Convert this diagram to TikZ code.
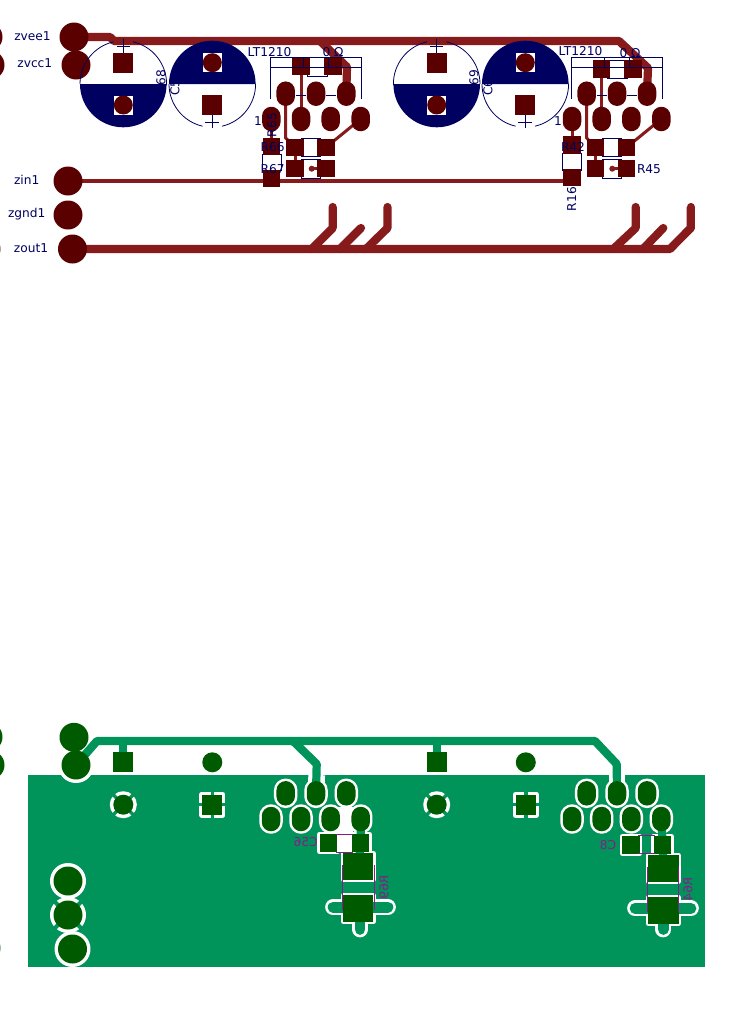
\documentclass[tikz,border=0pt]{standalone}
\usepackage{fontspec}
\setmainfont{DejaVu Sans}
\usetikzlibrary{shapes.misc}
\pgfdeclarelayer{plane}
\pgfdeclarelayer{halo}
\pgfdeclarelayer{traces}
\pgfsetlayers{plane,halo,traces,main}
\definecolor{tracered}{HTML}{871A1A}
\definecolor{padred}{HTML}{5A0000}
\definecolor{silk}{HTML}{000060}
\definecolor{planegreen}{HTML}{00945A}
\definecolor{padgreen}{HTML}{005A00}
\definecolor{silkbot}{HTML}{8A1A8A}
\tikzset{
    pad/.style={inner sep=0, outer sep=0, fill=padred},
    botpad/.style={fill=padgreen},
    padround/.style={pad, circle, minimum size=29},
    padhole/.style={pad, circle, minimum size=19},
    padsq/.style={pad, rectangle, minimum size=20},
    padoval/.style={pad, rounded rectangle, rotate=90, minimum width=24.5, minimum height=18.5},
    padsmd/.style={pad, rectangle, minimum size=17.5},
    padbig/.style={pad, rectangle, minimum width=30, minimum height=26.5},
    clear/.style={fill=none, draw=white, line width=5, line join=round},
    chipbody/.style={draw=silk, line width=0.8, fill=white, inner sep=0, outer sep=0},
    trace/.style={tracered, line width=8.2, line join=round},
    tracethin/.style={tracered, line width=3},
    tracebot/.style={planegreen, line width=8.2, line join=round},
    silkline/.style={silk, line width=0.8},
    silktext/.style={text=silk, font=\fontsize{12.2}{13}\selectfont, inner sep=0},
    bottext/.style={text=silkbot, font=\fontsize{12.2}{13}\selectfont, inner sep=0, xscale=-1},
    botline/.style={silkbot, line width=0.8}
}
\begin{document}
\begin{tikzpicture}[x=1pt, y=-1pt]
    \useasboundingbox (0,0) rectangle (752,1018);
    % pads cut by the page edge
    \begin{scope}
        \clip (0,0) rectangle (752,1018);
        \foreach \y/\x/\n in {37/-12/a, 65/-10/b, 249/-14/c} \node[padround] (edge\n) at (\x,\y) {};
        \foreach \y/\x/\n in {737/-12/d, 765/-10/e, 948/-14/f} \node[padround, botpad] (edge\n) at (\x,\y) {};
    \end{scope}

    % top copper
    \node[padround] (zvee) at (74,37) {};
    \node[padround] (zvcc) at (76,65) {};
    \node[padround] (zin) at (68,181) {};
    \node[padround] (zgnd) at (68,215) {};
    \node[padround] (zout) at (72.5,249) {};
    \node[silktext] at (32.5,36) {zvee1};
    \node[silktext] at (34.8,63.3) {zvcc1};
    \node[silktext] at (26.7,180) {zin1};
    \node[silktext] at (26.7,213.7) {zgnd1};
    \node[silktext] at (31,247.7) {zout1};

    \node[silktext, rotate=90] at (161,77.5) {68};
    \node[silktext, rotate=90, anchor=west] at (175,96) {C5};
    \node[silktext, rotate=90] at (474,77.5) {69};
    \node[silktext, rotate=90, anchor=west] at (488,96) {C6};

    % capacitors
    \foreach \cx/\n in {123.3/a, 436.7/c} {
        \fill[silk] (\cx-43.3,84) arc[start angle=180, end angle=0, radius=43.3] -- cycle;
        \draw[silkline] (\cx-43.3,84) arc[start angle=180, end angle=257, radius=43.3];
        \draw[silkline] (\cx+43.3,84) arc[start angle=360, end angle=283, radius=43.3];
        \draw[silkline] (\cx-43.3,84) -- (\cx+43.3,84);
        \draw[silkline] (\cx,39.3) -- (\cx,52.7) (\cx-6.7,46) -- (\cx+6.7,46);
        \fill[white] (\cx-9.5,95.5) rectangle (\cx+9.5,114.5);
        \node[padsq] (cap\n sq) at (\cx,62.7) {};
        \node[padhole] (cap\n rd) at (\cx,105) {};
    }
    \foreach \cx/\n in {212.3/b, 525.3/d} {
        \fill[silk] (\cx-43.3,84) arc[start angle=180, end angle=360, radius=43.3] -- cycle;
        \draw[silkline] (\cx-43.3,84) arc[start angle=180, end angle=103, radius=43.3];
        \draw[silkline] (\cx+43.3,84) arc[start angle=0, end angle=77, radius=43.3];
        \draw[silkline] (\cx,115) -- (\cx,128.3) (\cx-7,122) -- (\cx+7,122);
        \fill[white] (\cx-9.5,53.2) rectangle (\cx+9.5,72.2);
        \node[padhole] (cap\n rd) at (\cx,62.7) {};
        \node[padsq] (cap\n sq) at (\cx,105) {};
    }

    % amplifiers, row by row
    \foreach \x [count=\i] in {285.7,316,346.3} \node[padoval] (ua\i) at (\x,93.7) {};
    \foreach \x [count=\i] in {271.3,301,330.7,360.7} \node[padoval] (ub\i) at (\x,119) {};
    \foreach \x [count=\i] in {586.7,617,647} \node[padoval] (va\i) at (\x,93.7) {};
    \foreach \x [count=\i] in {572,601.7,631.3,661.3} \node[padoval] (vb\i) at (\x,119) {};

    \node[padsmd] (R1a) at (301,66.7) {};
    \node[padsmd] (R1b) at (333,66.7) {};
    \node[padsmd] (R66a) at (295,147.3) {};
    \node[padsmd] (R66b) at (326,147.3) {};
    \node[padsmd] (R67a) at (295,168.7) {};
    \node[padsmd] (R67b) at (326,168.7) {};
    \node[padsmd] (R65a) at (271.3,146.7) {};
    \node[padsmd] (R65b) at (271.3,178.5) {};
    \node[padsmd] (R2a) at (601.7,69) {};
    \node[padsmd] (R2b) at (633,69) {};
    \node[padsmd] (R44a) at (595.3,147.3) {};
    \node[padsmd] (R44b) at (626.7,147.3) {};
    \node[padsmd] (R45a) at (595.3,168.7) {};
    \node[padsmd] (R45b) at (626.7,168.7) {};
    \node[padsmd] (R42) at (572,145) {};
    \node[padsmd] (R16) at (572,177.3) {};
    \node[circle, fill=tracered, minimum size=6, inner sep=0] (dota) at (311.7,168.7) {};
    \node[circle, fill=tracered, minimum size=6, inner sep=0] (dotb) at (612.3,168.7) {};

    \begin{pgfonlayer}{traces}
        \draw[trace] (zvee.center) -- (110,37) -- (114,41) -- (619,41) -- (648,68) -- (va3.center);
        \draw[trace] (320,41) -- (347,67) -- (ua3.center);
        \draw[trace] (zout.center) -- (670,249) -- (690.7,228) -- (690.7,207);
        \draw[trace, line cap=round] (311.7,249) -- (332.7,228) -- (332.7,207);
        \draw[trace, line cap=round] (340,249) -- (361,228);
        \draw[trace, line cap=round] (366,249) -- (387.5,228) -- (387.5,207);
        \draw[trace, line cap=round] (613.3,249) -- (635.7,228) -- (635.7,207);
        \draw[trace, line cap=round] (643,249) -- (663.3,228);
        \draw[trace, line cap=round] (690.7,228) -- (690.7,207);
        \draw[tracered, line width=3.4] (zin.center) -- (zin.center -| R16.center);
        \draw[tracethin] (R1a.center) -- (ub2.center);
        \draw[tracethin] (ua1.center) -- (285.7,138) -- (R66a.center);
        \draw[tracethin] (ub4.center) -- (R66b.center);
        \draw[tracethin] (R66a.center) -- (R67a.center);
        \draw[tracethin] (ub1.center) -- (R65a.center);
        \draw[tracethin] (R67b.center) -- (dota.center);
        \draw[tracethin] (R2a.center) -- (vb2.center);
        \draw[tracethin] (va1.center) -- (586.7,138) -- (R44a.center);
        \draw[tracethin] (vb4.center) -- (R44b.center);
        \draw[tracethin] (R44a.center) -- (R45a.center);
        \draw[tracethin] (vb1.center) -- (R42.center);
        \draw[tracethin] (R45b.center) -- (dotb.center);
    \end{pgfonlayer}

    % chip bodies under the copper, outlines above it
    \begin{pgfonlayer}{halo}
        \foreach \x/\w/\y/\h/\n in {317/20/67/18.6/ba, 310.8/19/147.5/18.4/bb, 310.8/19/168.8/19/bc, 271.6/18.7/162.2/15.7/bd,
            617.5/20/69.2/18.3/be, 611.7/19/147.5/18.4/bf, 611.7/19/168.8/19/bg, 572.2/19/161.7/16.7/bh}
            \node[chipbody, minimum width=\w, minimum height=\h] (\n) at (\x,\y) {};
    \end{pgfonlayer}
    \foreach \x in {270.7,571.7} {
        \draw[silkline] (\x,98.5) -- (\x,57.7) -- (\x+90.6,57.7) -- (\x+90.6,98.5);
        \draw[silkline] (\x,67.7) -- (\x+90.6,67.7);
        \draw[silkline] (\x+32.6,57.7) -- (\x+32.6,67.7) (\x+58,57.7) -- (\x+58,67.7);
        \draw[silkline] (\x+25,95.7) -- (\x+35,95.7) (\x+55,95.7) -- (\x+65,95.7);
    }
    \node[silktext] at (269.5,52) {LT1210};
    \node[silktext] at (333,52) {0 Ω};
    \node[silktext] at (580.5,51.5) {LT1210};
    \node[silktext] at (630,53) {0 Ω};
    \node[silktext] at (258,120.7) {1};
    \node[silktext] at (558,120.7) {1};
    \node[silktext, rotate=90] at (272,125) {R65};
    \node[silktext] at (272.7,147.3) {R66};
    \node[silktext] at (272.7,168.7) {R67};
    \node[silktext] at (573,147) {R42};
    \node[silktext] at (649,168.7) {R45};
    \node[silktext, rotate=90] at (571.7,199) {R16};

    % bottom copper
    \begin{pgfonlayer}{plane}
        \fill[planegreen] (28,775.3) rectangle (705.4,967.3);
    \end{pgfonlayer}

    \node[padround, botpad] (bvee) at (74,737.3) {};
    \node[padround, botpad] (bvcc) at (76,765) {};
    \node[padround, botpad] (bin) at (68,881) {};
    \node[padround, botpad] (bgnd) at (68,915) {};
    \node[padround, botpad] (bout) at (72.5,949) {};
    \foreach \cx/\n in {123.3/a, 436.7/c} {
        \node[padsq, botpad] (bcap\n sq) at (\cx,762.3) {};
        \node[padsq, circle, botpad] (bcap\n rd) at (\cx,804.7) {};
    }
    \foreach \cx/\n in {212.3/b, 525.8/d} {
        \node[padsq, circle, botpad] (bcap\n rd) at (\cx,762.3) {};
        \node[padsq, botpad] (bcap\n sq) at (\cx,804.7) {};
    }
    \foreach \x [count=\i] in {285.7,316,346.3} \node[padoval, botpad] (pa\i) at (\x,793.3) {};
    \foreach \x [count=\i] in {271,301,330.7,360.7} \node[padoval, botpad] (pb\i) at (\x,819) {};
    \foreach \x [count=\i] in {586.7,617,647} \node[padoval, botpad] (qa\i) at (\x,793.3) {};
    \foreach \x [count=\i] in {572,601.7,631.3,661.3} \node[padoval, botpad] (qb\i) at (\x,819) {};
    \node[padsmd, botpad] (C56a) at (328.3,843) {};
    \node[padsmd, botpad] (C56b) at (360.7,843) {};
    \node[padsmd, botpad] (C8a) at (631,845) {};
    \node[padsmd, botpad] (C8b) at (662.7,845) {};
    \node[padbig, botpad] (R69a) at (358.3,866.7) {};
    \node[padbig, botpad] (R69b) at (358.3,908.3) {};
    \node[padbig, botpad, minimum width=31] (R64a) at (663.3,868.3) {};
    \node[padbig, botpad, minimum width=31] (R64b) at (663.3,910.5) {};

    \begin{pgfonlayer}{halo}
        \fill[white] (337,807) rectangle (353,835);
        \fill[white] (338,835) rectangle (352,853);
        \draw[white, line width=16.7] (316.7,775) -- (pa2.center);
        \draw[white, line width=16.7] (617,775) -- (qa2.center);
        \draw[white, line width=4] (bout.center) -- (72.5,967.5);
        \foreach \n in {bvcc, bout} \node[padround, clear, minimum size=31] at (\n) {};
        \node[padround, clear, minimum size=31] at (bgnd) {};
        \foreach \n in {bgnd} \draw[planegreen, line width=4]
            (\n.center) ++(45:22) -- ++(225:44) (\n.center) ++(135:22) -- ++(315:44);
        \node[padround, clear, minimum size=31] at (bin) {};
        \foreach \n in {bcapard, bcapcrd} {
            \node[padsq, circle, clear, minimum size=22] at (\n) {};
            \draw[planegreen, line width=3.4] (\n.center) ++(45:15) -- ++(225:30) (\n.center) ++(135:15) -- ++(315:30);
        }
        \foreach \n in {bcapbsq, bcapdsq} {
            \node[padsq, clear, minimum size=21] at (\n) {};
            \draw[planegreen, line width=3.5] (\n.center) ++(0:15) -- ++(180:30) (\n.center) ++(90:15) -- ++(270:30);
        }
        \foreach \n in {pa1,pa2,pa3,pb1,pb2,pb3,pb4,qa1,qa2,qa3,qb1,qb2,qb3,qb4}
            \node[padoval, clear] at (\n) {};
        \foreach \n in {C56a,C56b,C8a,C8b} \node[padsmd, clear] at (\n) {};
        \foreach \n in {R69a,R69b,R64a,R64b} \node[padbig, clear] at (\n) {};
        \foreach \xa/\xb/\xm/\y in {333/388/360/907.2, 635/691/663.3/908.3} {
            \draw[white, line width=15.7, line cap=round] (\xa,\y) -- (\xb,\y);
            \draw[planegreen, line width=10.7, line cap=round] (\xa,\y) -- (\xb,\y);
            \draw[white, line width=15.7, line cap=round] (\xm,\y+8) -- (\xm,929.5);
            \draw[planegreen, line width=10.7, line cap=round] (\xm,\y+8) -- (\xm,929.5);
        }
    \end{pgfonlayer}

    \begin{pgfonlayer}{traces}
        \draw[tracebot] (bvcc.center) -- (97,741) -- (595,741) -- (616.7,764) -- (qa2.center);
        \draw[tracebot] (293,741) -- (316.7,764) -- (pa2.center);
        \draw[tracebot] (123.3,741) -- (bcapasq.center);
        \draw[tracebot] (436.7,741) -- (bcapcsq.center);
        \draw[tracebot] (pb4.center) -- (C56b.center) -- (R69a.center);
        \draw[tracebot] (qb4.center) -- (C8b.center) -- (R64a.center);
    \end{pgfonlayer}

    \draw[botline] (336,834.2) -- (353,834.2) (336,852.8) -- (353,852.8);
    \draw[botline] (638.3,835.7) -- (655,835.7) (638.3,853.3) -- (655,853.3);
    \draw[botline] (342.7,865) -- (342.7,910) (374,865) -- (374,910);
    \draw[botline] (647.3,867) -- (647.3,912) (678.3,867) -- (678.3,912);
    \node[bottext] at (305.7,842.3) {C56};
    \node[bottext] at (608,845) {C8};
    \node[bottext, rotate=-90] at (384,887) {R69};
    \node[bottext, rotate=-90] at (688,889) {R64};
\end{tikzpicture}
\end{document}
